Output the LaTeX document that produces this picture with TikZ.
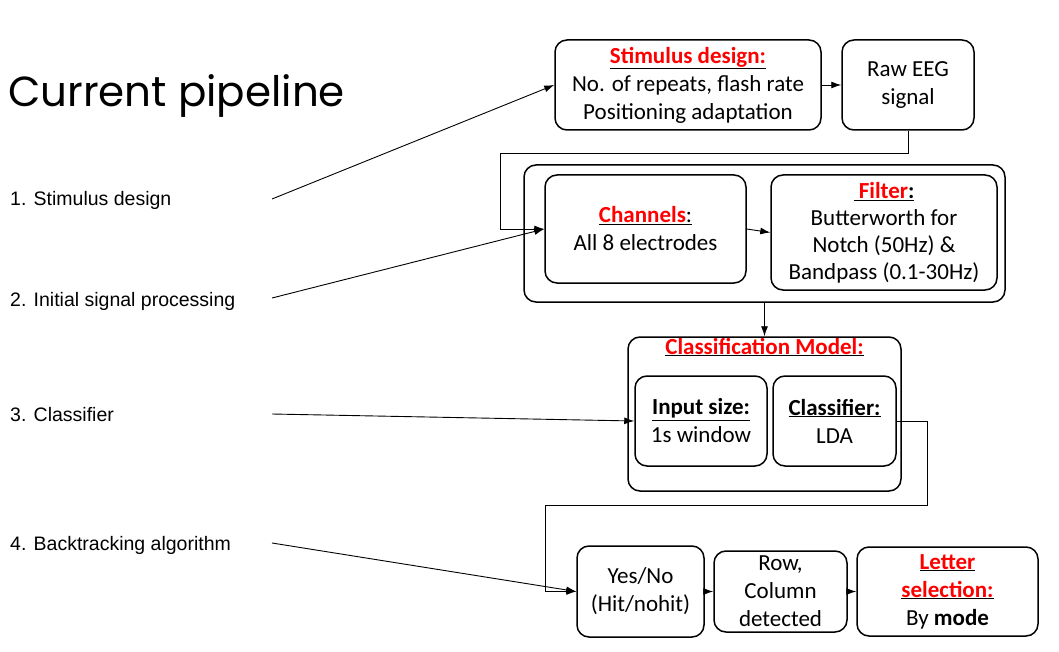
\documentclass[tikz,border=0pt]{standalone}
\usepackage{fontspec}
\setmainfont{Carlito}
\newfontfamily\titlefont{Poppins}
\newfontfamily\arialfont{Liberation Sans}
\usetikzlibrary{arrows.meta}
\definecolor{hred}{RGB}{255,0,0}
\newcommand{\rh}[1]{\underline{\textcolor{hred}{\textbf{#1}}}}
\newcommand{\bh}[1]{\underline{\textbf{#1}}}
\begin{document}
\begin{tikzpicture}[x=1pt,y=-1pt,
  box/.style={draw, line width=1.5pt, rounded corners=12pt, align=center, inner sep=0pt,
    font=\fontsize{23}{28}\selectfont},
  lab/.style={anchor=base west, font=\arialfont\fontsize{19.5}{21}\selectfont, inner sep=0pt},
  arr/.style={line width=0.9pt, -{Latex[length=10pt,width=7pt]}},
  conn/.style={line width=0.9pt}]
\useasboundingbox (0,0) rectangle (1059,652);
\node[anchor=base west, inner sep=0pt, font=\titlefont\fontsize{42}{44}\selectfont] (title) at (8,107) {Current pipeline};

% boxes
\node[box, minimum width=266pt, minimum height=90pt] (stim) at (688,85)
  {\rh{Stimulus design:}\\No. of repeats, flash rate\\Positioning adaptation};
\node[box, minimum width=132pt, minimum height=90pt] (raw) at (908,85) {Raw EEG\\signal};
\node[box, minimum width=481pt, minimum height=137pt] (outer) at (764.5,233.5) {};
\node[box, minimum width=201pt, minimum height=108pt] (chan) at (645.5,229)
  {\underline{\textcolor{hred}{\textbf{Channels}}:}\\All 8 electrodes};
\node[box, minimum width=226pt, minimum height=115pt, font=\fontsize{23}{27}\selectfont] (filt) at (884,232.5)
  {\underline{ \textcolor{hred}{\textbf{Filter}}\textbf{:}}\\Butterworth for\\Notch (50Hz) \&\\Bandpass (0.1-30Hz)};
\node[box, minimum width=273pt, minimum height=154pt] (cls) at (764.5,414) {};
\node[inner sep=0pt, font=\fontsize{23}{28}\selectfont] (clstitle) at (764.5,347) {\rh{Classification Model:}};
\node[box, minimum width=132pt, minimum height=90pt] (inp) at (701,421)
  {\bh{Input size:}\\1s window};
\node[box, minimum width=123pt, minimum height=90pt] (clf) at (834.5,421)
  {\bh{Classifier:}\\LDA};
\node[box, minimum width=127pt, minimum height=91pt] (yes) at (640.5,591.5)
  {Yes/No\\(Hit/nohit)};
\node[box, minimum width=133pt, minimum height=81pt] (row) at (780.5,591.5)
  {Row,\\Column\\detected};
\node[box, minimum width=181pt, minimum height=89pt] (let) at (947.5,591.5)
  {\rh{Letter}\\\rh{selection:}\\By \textbf{mode}};

% left labels
\node[lab] (l1) at (10,206) {1. Stimulus design};
\node[lab] (l2) at (10,306) {2. Initial signal processing};
\node[lab] (l3) at (10,421) {3. Classifier};
\node[lab] (l4) at (10,550) {4. Backtracking algorithm};
\coordinate (s1) at (272,199);
\coordinate (s2) at (272,298);
\coordinate (s3) at (272,414);
\coordinate (s4) at (272,543);
\draw[arr] (s1) -- (stim.west);
\draw[arr] (s2) -- (chan.west);
\draw[arr] (s3) -- (inp.west);
\draw[arr] (s4) -- (yes.west);

% connectors
\coordinate (c1) at (500,153);
\coordinate (c2) at (927,505);
\coordinate (c3) at (545,505);
\draw[arr] (stim.east) -- (raw.west);
\draw[arr] (raw.south) |- (c1) |- (chan.west);
\draw[arr] (chan.east) -- (filt.west);
\draw[arr] (outer.south) -- (cls.north);
\draw[arr] (clf.east) -| (c2) -- (c3) |- (yes.west);
\draw[arr] (yes.east) -- (row.west);
\draw[arr] (row.east) -- (let.west);
\end{tikzpicture}
\end{document}
